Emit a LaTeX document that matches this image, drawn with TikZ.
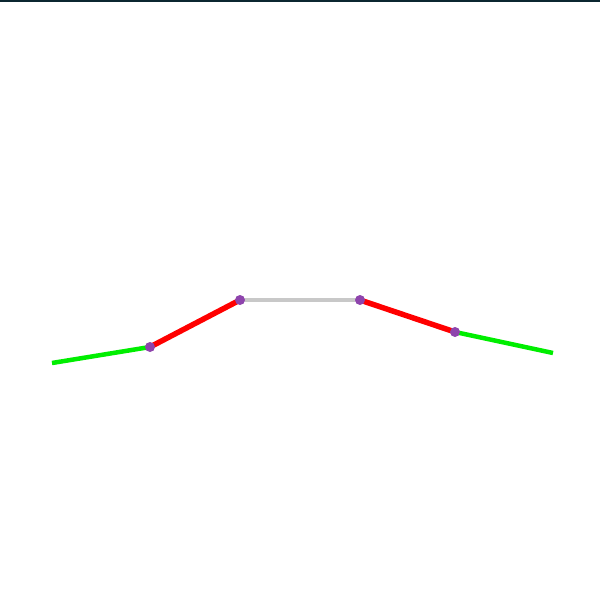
\documentclass[tikz,border=0pt]{standalone}
\definecolor{pdot}{HTML}{8E44AD}
\definecolor{topbar}{HTML}{0B2630}
\definecolor{segred}{HTML}{FF0000}
\definecolor{seggreen}{HTML}{00EE00}
\definecolor{seggray}{HTML}{C8C8C8}
\begin{document}
\begin{tikzpicture}[x=1pt,y=-1pt,
  dotstyle/.style={circle,fill=pdot,inner sep=0pt,minimum size=10pt},
  greenseg/.style={draw=seggreen,line width=4.5pt},
  redseg/.style={draw=segred,line width=5.5pt},
  grayseg/.style={draw=seggray,line width=4.5pt}]
\useasboundingbox (0,0) rectangle (600,601);
\fill[white] (0,0) rectangle (600,601);
\fill[topbar] (0,0) rectangle (600,2);
\coordinate (gl) at (52,363);
\coordinate (gr) at (553,353);
\coordinate (p1) at (150,347);
\coordinate (p2) at (240,300);
\coordinate (p3) at (360,300);
\coordinate (p4) at (455,332);
\draw[greenseg] (gl) -- (p1);
\draw[redseg] (p1) -- (p2);
\draw[grayseg] (p2) -- (p3);
\draw[redseg] (p3) -- (p4);
\draw[greenseg] (p4) -- (gr);
\node[dotstyle] (d1) at (p1) {};
\node[dotstyle] (d2) at (p2) {};
\node[dotstyle] (d3) at (p3) {};
\node[dotstyle] (d4) at (p4) {};
\end{tikzpicture}
\end{document}
